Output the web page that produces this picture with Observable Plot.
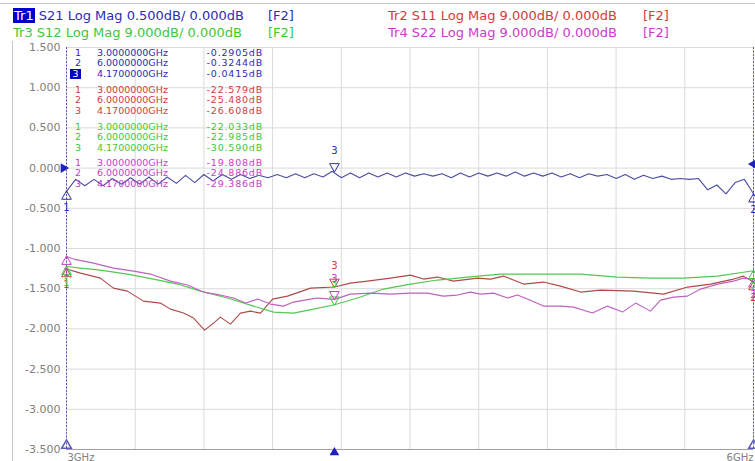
<!DOCTYPE html>
<html><head><meta charset="utf-8">
<script src="https://cdn.jsdelivr.net/npm/d3@7"></script>
<script src="https://cdn.jsdelivr.net/npm/@observablehq/plot@0.6"></script>
<style>
body{margin:0;background:#fff;}
#wrap{position:relative;width:755px;height:461px;overflow:hidden;background:#fff;font-family:"DejaVu Sans",Verdana,sans-serif;}
#chart{position:absolute;left:0;top:0;}
.hdr{position:absolute;font-size:13px;line-height:15px;white-space:pre;}
.mk{position:absolute;font-size:9.5px;line-height:10px;white-space:pre;}
.box{background:#0000cc;color:#fff;padding:0 1px;}
</style></head><body><div id="wrap"><div id="chart"></div></div>
<script>
// ---- data ----
const xTicks = [3,3.3,3.6,3.9,4.2,4.5,4.8,5.1,5.4,5.7,6];
const yTicks = [1.5,1,0.5,0,-0.5,-1,-1.5,-2,-2.5,-3,-3.5];
const xLabels = ["3GHz","6GHz"];

const s21Freq = [3.00,3.04,3.08,3.12,3.16,3.20,3.24,3.28,3.32,3.36,
3.40,3.44,3.48,3.52,3.56,3.60,3.64,3.68,3.72,3.76,
3.80,3.84,3.88,3.92,3.96,4.00,4.04,4.08,4.12,4.16,
4.20,4.24,4.28,4.32,4.36,4.40,4.44,4.48,4.52,4.56,
4.60,4.64,4.68,4.72,4.76,4.80,4.84,4.88,4.92,4.96,
5.00,5.04,5.08,5.12,5.16,5.20,5.24,5.28,5.32,5.36,
5.40,5.44,5.48,5.52,5.56,5.60,5.64,5.68,5.72,5.76,
5.80,5.84,5.88,5.92,5.96,6.00];
const s21Db = [-0.29,-0.14,-0.22,-0.14,-0.22,-0.13,-0.20,-0.12,-0.20,-0.11,
-0.20,-0.11,-0.19,-0.09,-0.18,-0.08,-0.16,-0.08,-0.14,-0.08,
-0.13,-0.09,-0.12,-0.08,-0.12,-0.07,-0.12,-0.07,-0.11,-0.04,
-0.12,-0.06,-0.12,-0.06,-0.11,-0.06,-0.11,-0.06,-0.10,-0.07,
-0.10,-0.07,-0.12,-0.06,-0.11,-0.06,-0.10,-0.06,-0.10,-0.05,
-0.10,-0.06,-0.10,-0.06,-0.11,-0.07,-0.12,-0.07,-0.10,-0.08,
-0.13,-0.08,-0.14,-0.09,-0.13,-0.10,-0.14,-0.13,-0.14,-0.13,
-0.27,-0.21,-0.32,-0.18,-0.14,-0.32];

const s11Freq = [3.000,3.061,3.148,3.205,3.266,3.336,3.410,3.454,3.511,3.555,3.603,3.642,3.672,3.716,3.760,3.803,3.847,3.900,3.965,4.066,4.170,4.240,4.314,4.415,4.502,4.559,4.620,4.690,4.795,4.852,4.908,4.996,5.083,5.157,5.245,5.332,5.476,5.607,5.712,5.812,5.913,5.956,6.000];
const s11Db = [-22.58,-23.51,-24.63,-26.87,-27.54,-29.78,-30.22,-31.57,-32.46,-33.58,-36.27,-34.70,-33.36,-34.93,-32.46,-32.02,-32.46,-29.33,-28.66,-26.87,-26.61,-25.75,-25.30,-24.63,-23.96,-24.85,-24.40,-25.30,-24.63,-24.85,-24.18,-25.97,-25.52,-26.42,-27.76,-27.31,-27.54,-28.21,-26.64,-25.97,-24.85,-24.18,-25.48];

const s12Freq = [3.000,3.061,3.148,3.266,3.380,3.485,3.585,3.703,3.817,3.904,3.991,4.079,4.170,4.271,4.384,4.502,4.620,4.751,4.895,5.100,5.245,5.406,5.550,5.694,5.843,6.000];
const s12Db = [-22.03,-22.39,-22.84,-23.73,-24.85,-25.97,-27.54,-29.10,-30.90,-32.24,-32.46,-31.57,-30.59,-29.10,-27.09,-25.97,-25.07,-24.40,-23.73,-23.73,-23.73,-24.40,-24.63,-24.63,-24.18,-22.99];

const s22Freq = [3.000,3.031,3.118,3.205,3.293,3.367,3.454,3.528,3.598,3.672,3.729,3.782,3.834,3.891,3.948,3.991,4.066,4.096,4.170,4.240,4.328,4.415,4.502,4.576,4.646,4.707,4.764,4.808,4.865,4.926,4.969,5.013,5.083,5.157,5.214,5.297,5.362,5.428,5.485,5.550,5.594,5.651,5.712,5.769,5.843,5.913,5.956,6.000];
const s22Db = [-19.81,-20.37,-21.27,-22.39,-23.06,-23.73,-25.30,-26.19,-27.76,-28.43,-29.10,-30.22,-29.33,-30.45,-30.90,-30.00,-29.33,-29.10,-29.39,-28.21,-27.99,-28.21,-27.99,-27.99,-28.66,-28.43,-27.76,-28.21,-27.99,-29.10,-28.43,-29.33,-30.90,-30.90,-31.12,-32.46,-30.90,-32.24,-30.22,-32.02,-29.55,-28.88,-28.66,-27.09,-25.97,-25.30,-24.63,-24.89];

const markerFreqs = [3, 6, 4.17];
const markerFreqText = ["3.0000000GHz","6.0000000GHz","4.1700000GHz"];
const markerS21 = [-0.2905,-0.3244,-0.0415];
const markerS11 = [-22.579,-25.480,-26.608];
const markerS12 = [-22.033,-22.985,-30.590];
const markerS22 = [-19.808,-24.886,-29.386];

const traces = [
  {tr:"Tr1", name:"S21", scale:0.5, freq:s21Freq, db:s21Db, mk:markerS21, text:"#2c2cb4", line:"#4c4ca4"},
  {tr:"Tr2", name:"S11", scale:9,   freq:s11Freq, db:s11Db, mk:markerS11, text:"#d03c3c", line:"#b04a4a"},
  {tr:"Tr3", name:"S12", scale:9,   freq:s12Freq, db:s12Db, mk:markerS12, text:"#3cc83c", line:"#52c852"},
  {tr:"Tr4", name:"S22", scale:9,   freq:s22Freq, db:s22Db, mk:markerS22, text:"#c83cc8", line:"#c060c0"}
];
// displayed in Tr1 units (0.5 dB/div)
const disp = (t, v) => v * 0.5 / t.scale;

const lineMarks = traces.map(t => Plot.line(t.freq.map((f,i)=>({f, y:disp(t,t.db[i])})),
  {x:"f", y:"y", stroke:t.line, strokeWidth:1.1}));

const mkRows = [];
traces.forEach(t => t.mk.forEach((v,i)=>mkRows.push({f:markerFreqs[i], y:disp(t,v), n:String(i+1), c:t.text, up:i<2})));

const chart = Plot.plot({
  width:755, height:461,
  marginLeft:66, marginRight:2, marginTop:47, marginBottom:12,
  x:{domain:[3,6], axis:null}, y:{domain:[-3.5,1.5], axis:null},
  style:{fontFamily:"DejaVu Sans, Verdana, sans-serif", background:"transparent", overflow:"visible"},
  marks:[
    Plot.gridX(xTicks,{stroke:"#dadada", strokeOpacity:1}),
    Plot.gridY(yTicks,{stroke:"#dadada", strokeOpacity:1}),
    Plot.axisY(yTicks,{tickSize:0, tickPadding:6, tickFormat:d=>d.toFixed(3), fill:"#808080", fontSize:11, label:null}),
    Plot.ruleY([-3.5],{stroke:"#a0a0a0"}),
    Plot.ruleX([3,6],{stroke:"#5a5ab8", strokeDasharray:"2,1.5"}),
    Plot.text([xLabels[0]],{x:3, y:-3.5, text:d=>d, dy:8, dx:1, textAnchor:"start", fill:"#808080", fontSize:10}),
    Plot.text([xLabels[1]],{x:6, y:-3.5, text:d=>d, dy:8, dx:0, textAnchor:"end", fill:"#808080", fontSize:10}),
    ...lineMarks,
    Plot.dot(mkRows.filter(d=>!d.up),{x:"f", y:"y", symbol:"triangle", rotate:180, r:3.6, dy:-5, stroke:"c", fill:"none", strokeWidth:1}),
    Plot.text(mkRows.filter(d=>!d.up),{x:"f", y:"y", text:"n", dy:-21, fill:"c", fontSize:10}),
    Plot.dot(mkRows.filter(d=>d.up),{x:"f", y:"y", symbol:"triangle", r:3.6, dy:5, stroke:"c", fill:"none", strokeWidth:1}),
    Plot.text(mkRows.filter(d=>d.up),{x:"f", y:"y", text:"n", dy:16, fill:"c", fontSize:10}),
    Plot.dot([3,6],{x:d=>d, y:-3.5, symbol:"triangle", r:3.6, dy:-4, stroke:"#5a5ab8", fill:"none"}),
    Plot.dot([4.17],{x:d=>d, y:-3.5, symbol:"triangle", r:3.6, dy:3, fill:"#2020c0"}),
    Plot.dot([0],{x:3, y:d=>d, symbol:"triangle", rotate:90, r:3.6, dx:-3, fill:"#2020c0"}),
    Plot.dot([0],{x:6, y:d=>d, symbol:"triangle", rotate:-90, r:3.6, dx:0, dy:-4, fill:"#2020c0"})
  ]
});
const wrap = document.getElementById("wrap");
document.getElementById("chart").appendChild(chart);

// outer frame lines
const addDiv = (css) => { const d=document.createElement("div"); d.style.cssText="position:absolute;"+css; wrap.appendChild(d); return d; };
addDiv("left:0;top:3px;width:755px;height:1px;background:#c8c8c8;");
addDiv("left:12px;top:41px;width:1px;height:420px;background:#c8c8c8;");

// header
const hdrPos = [[13,8],[388,8],[13,25],[388,25]];
traces.forEach((t,i)=>{
  const d = addDiv(`left:${hdrPos[i][0]}px;top:${hdrPos[i][1]}px;`);
  d.className="hdr"; d.style.color=t.text;
  const scale = t.scale.toFixed(3);
  d.innerHTML = (i===0 ? `<span class="box">${t.tr}</span>` : t.tr) + ` ${t.name} Log Mag ${scale}dB/ 0.000dB`;
  const f = addDiv(`left:${hdrPos[i][0]+255}px;top:${hdrPos[i][1]}px;`);
  f.className="hdr"; f.style.color=t.text; f.textContent="[F2]";
});

// marker table
const groupTop = [48, 85, 122, 158];
traces.forEach((t,g)=>{
  t.mk.forEach((v,i)=>{
    const top = groupTop[g] + i*10.3;
    const n = addDiv(`left:72px;top:${top}px;width:12px;text-align:center;`);
    n.className="mk"; n.style.color=t.text;
    if (g===0 && i===2) { n.style.cssText += "background:#0000cc;color:#fff;left:70px;width:11px;"; }
    n.textContent = String(i+1);
    const fq = addDiv(`left:97px;top:${top}px;`);
    fq.className="mk"; fq.style.color=t.text; fq.textContent = markerFreqText[i];
    const val = addDiv(`left:180px;top:${top}px;width:83px;text-align:right;letter-spacing:0.8px;`);
    val.className="mk"; val.style.color=t.text;
    val.textContent = (t.scale===0.5 ? v.toFixed(4) : v.toFixed(3)) + "dB";
  });
});
</script></body></html>
